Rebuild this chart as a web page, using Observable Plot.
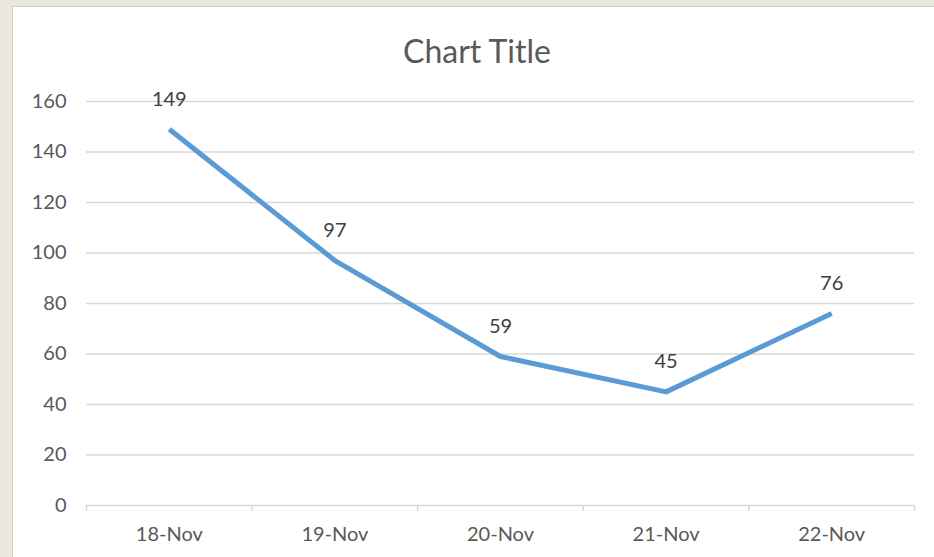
<!DOCTYPE html>
<html>
<head>
<meta charset="utf-8">
<script src="https://cdn.jsdelivr.net/npm/d3@7"></script>
<script src="https://cdn.jsdelivr.net/npm/@observablehq/plot@0.6"></script>
<style>
  html, body { margin: 0; padding: 0; }
  body { width: 934px; height: 557px; background: #ece7de; position: relative; overflow: hidden; font-family: Lato, "Open Sans", sans-serif; }
  #card { position: absolute; left: 12px; top: 6px; width: 921px; height: 550px; background: #fff; border-left: 1px solid #d3d0ca; border-top: 1px solid #d3d0ca; }
  #title { height: 68px; box-sizing: border-box; padding-top: 25px; padding-left: 7px; font-size: 32px; line-height: 38px; text-align: center; color: #595959; }
  svg { display: block; }
</style>
</head>
<body>
<div id="card">
  <div id="title">Chart Title</div>
  <div id="chart"></div>
</div>
<script>
const categories = ["18-Nov", "19-Nov", "20-Nov", "21-Nov", "22-Nov"];
const values = [149, 97, 59, 45, 76];
const yTicks = [0, 20, 40, 60, 80, 100, 120, 140, 160];

const data = categories.map((c, i) => ({ i, label: c, value: values[i] }));
const boundaries = d3.range(categories.length + 1).map(i => i - 0.5);

const W = 921, H = 482;
const mTop = 26, mBottom = 52, mLeft = 73, mRight = 20;
const plotH = H - mTop - mBottom;

const chart = Plot.plot({
  width: W,
  height: H,
  marginTop: mTop,
  marginBottom: mBottom,
  marginLeft: mLeft,
  marginRight: mRight,
  style: { fontFamily: "Lato, 'Open Sans', sans-serif", fontSize: "20px", color: "#595959", background: "white" },
  x: { domain: [-0.5, categories.length - 0.5] },
  y: { domain: [0, 160] },
  marks: [
    Plot.ruleY(yTicks, { stroke: "#d9d9d9", strokeWidth: 1.5 }),
    Plot.ruleX(boundaries, { stroke: "#d9d9d9", strokeWidth: 1.5, insetTop: plotH, insetBottom: -6 }),
    Plot.axisY({ ticks: yTicks, tickSize: 0, tickPadding: 20, fill: "#595959", label: null, fontSize: 20 }),
    Plot.axisX({ ticks: data.map(d => d.i), tickFormat: i => categories[i], tickSize: 0, tickPadding: 21, fill: "#595959", label: null, fontSize: 20 }),
    Plot.line(data, { x: "i", y: "value", stroke: "#5b9bd5", strokeWidth: 5, strokeLinejoin: "round", strokeLinecap: "butt" }),
    Plot.text(data, { x: "i", y: "value", text: d => String(d.value), dy: -30, fill: "#404040", fontSize: 20 })
  ]
});
document.getElementById("chart").appendChild(chart);
</script>
</body>
</html>
